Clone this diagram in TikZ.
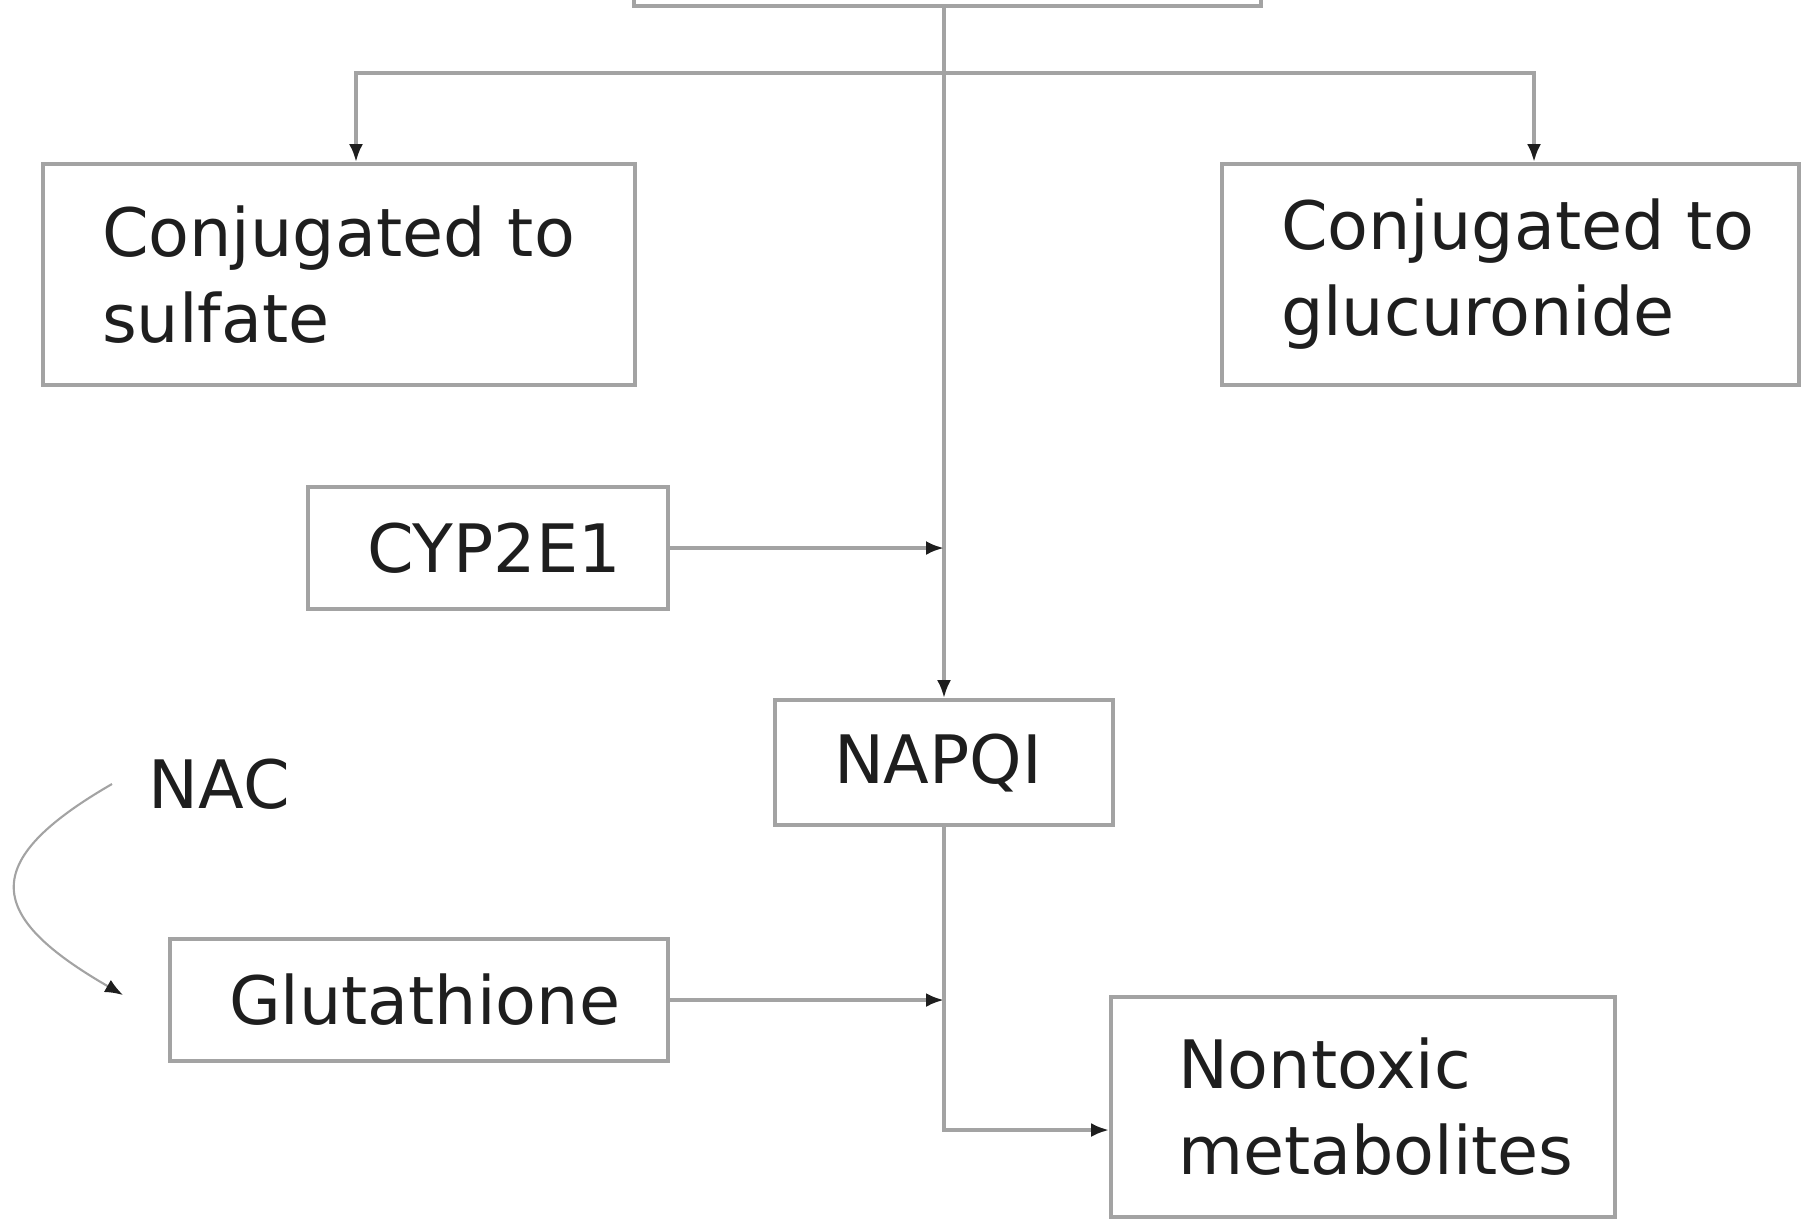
\documentclass[tikz,border=0pt]{standalone}
\usepackage{fontspec}
\setmainfont{DejaVu Sans}
\usepackage{xcolor}
\usetikzlibrary{arrows.meta}
\definecolor{linegray}{RGB}{163,163,163}
\definecolor{inkgray}{RGB}{30,30,30}

\begin{document}
\begin{tikzpicture}
\tikzstyle{box}=[draw=linegray,line width=1.1pt,inner xsep=0.59cm,align=left,text=inkgray,font=\fontsize{19}{24.5}\selectfont]
\tikzstyle{arrow}=[draw=linegray,line width=1pt,-{Latex[length=0.18cm,width=0.14cm,color=inkgray]}]
\useasboundingbox (0,0) rectangle (18.14,-12.20);
\node[box,minimum width=6.27cm,minimum height=1.2cm] (A) at (9.475,0.54){};
\node[box,text width=4.74cm,minimum height=2.21cm] (S) at (3.39,-2.745){Conjugated~to\\sulfate};
\node[box,text width=4.59cm,minimum height=2.21cm] (G) at (15.105,-2.745){Conjugated~to\\glucuronide};
\node[box,text width=2.42cm,minimum height=1.22cm] (C) at (4.88,-5.48){CYP2E1};
\node[box,text width=2.20cm,minimum height=1.25cm] (N) at (9.44,-7.625){NAPQI};
\node[box,text width=3.80cm,minimum height=1.22cm] (H) at (4.19,-10.00){Glutathione};
\node[box,inner xsep=0.67cm,text width=3.70cm,minimum height=2.20cm] (M) at (13.63,-11.07){Nontoxic\\metabolites};
\node[text=inkgray,font=\fontsize{19}{24.5}\selectfont,inner xsep=0.36cm,anchor=west] (X) at (1.12,-7.84){NAC};
\coordinate (B) at (9.44,-0.73);
% branches to the two conjugates
\draw[arrow] (B) -| ([xshift=0.17cm]S.north);
\draw[arrow] (B) -| ([xshift=0.235cm]G.north);
\draw[arrow] (A.south -| N.north) -- (N.north);
\draw[arrow] (C.east) -- (C.east -| N.north);
\draw[arrow] (H.east) -- (H.east -| N.north);
\draw[arrow] (N.south) |- ([yshift=-0.23cm]M.west);
\draw[arrow,line width=0.6pt] (X.west) to[out=210,in=150,looseness=1.9] ([xshift=-0.45cm,yshift=0.05cm]H.west);
\end{tikzpicture}
\end{document}
